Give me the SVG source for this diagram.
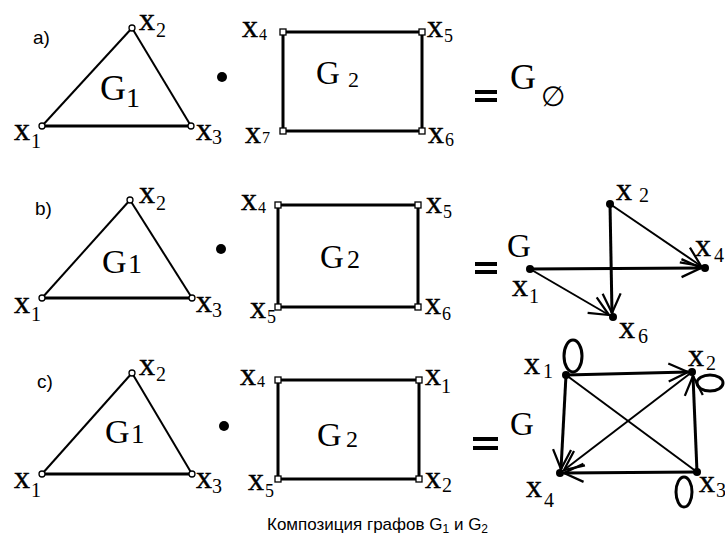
<svg xmlns="http://www.w3.org/2000/svg" width="725" height="550" viewBox="0 0 725 550">
<style>
.lbl{font-family:"Liberation Serif","Times New Roman",serif;font-size:32px;fill:#000;stroke:#000;stroke-width:0.4}
.sub{font-family:"Liberation Serif","Times New Roman",serif;fill:#000}
.big{font-family:"Liberation Serif","Times New Roman",serif;fill:#000}
.tag{font-family:"Liberation Sans",Arial,sans-serif;font-size:19px;fill:#000}
.ttl{font-family:"Liberation Sans",Arial,sans-serif;font-size:17px;fill:#000}
.e2{stroke:#000;stroke-width:2;fill:none}
.e3{stroke:#000;stroke-width:3;fill:none}
.on{fill:#fff;stroke:#000;stroke-width:1.3}
.fn{fill:#000}
</style>
<defs>
<marker id="arr" markerUnits="userSpaceOnUse" markerWidth="30" markerHeight="30" viewBox="-16 -10 20 20" refX="0" refY="0" orient="auto">
<path d="M-13,-6 L0,0 L-13,6" fill="none" stroke="#000" stroke-width="1.5"/>
</marker>
</defs>

<!-- Row a -->
<g id="row-a">
<text class="tag" x="33" y="44">a)</text>
<g id="a-G1-edges">
<line class="e2" x1="42" y1="126" x2="132" y2="28"/>
<line class="e2" x1="132" y1="28" x2="191" y2="126"/>
<line class="e3" x1="42" y1="126" x2="191" y2="126"/>
</g>
<g id="a-x1"><circle class="on" cx="42" cy="126" r="3"/><text class="lbl" x="14" y="140">x</text><text class="sub" x="31" y="148" font-size="20">1</text></g>
<g id="a-x2"><circle class="on" cx="132" cy="28" r="3"/><text class="lbl" x="139" y="30">x</text><text class="sub" x="156" y="37" font-size="20">2</text></g>
<g id="a-x3"><circle class="on" cx="191" cy="126" r="3"/><text class="lbl" x="196" y="140">x</text><text class="sub" x="212" y="144" font-size="20">3</text></g>
<g id="a-G1label"><text class="big" x="100" y="100" font-size="36">G</text><text class="sub" x="126" y="107" font-size="28">1</text></g>
<circle id="a-dot" class="fn" cx="222" cy="77" r="5"/>
<g id="a-G2-edges">
<rect class="e3" x="283" y="32" width="139" height="99"/>
</g>
<g id="a-x4"><rect class="on" x="280" y="29" width="6" height="6"/><text class="lbl" x="242" y="37">x</text><text class="sub" x="259" y="40" font-size="16">4</text></g>
<g id="a-x5"><rect class="on" x="419" y="29" width="6" height="6"/><text class="lbl" x="427" y="37">x</text><text class="sub" x="444" y="42" font-size="18">5</text></g>
<g id="a-x7"><rect class="on" x="280" y="128" width="6" height="6"/><text class="lbl" x="245" y="143">x</text><text class="sub" x="262" y="143" font-size="16">7</text></g>
<g id="a-x6"><rect class="on" x="419" y="128" width="6" height="6"/><text class="lbl" x="428" y="143">x</text><text class="sub" x="445" y="146" font-size="18">6</text></g>
<g id="a-G2label"><text class="big" x="316" y="84" font-size="33">G</text><text class="sub" x="348" y="87" font-size="22">2</text></g>
<rect x="475" y="90" width="22" height="4"/><rect x="475" y="98" width="22" height="4"/>
<g id="a-result"><text class="big" x="510" y="89" font-size="36">G</text><text class="sub" x="541" y="106" font-size="28">∅</text></g>
</g>

<!-- Row b -->
<g id="row-b">
<text class="tag" x="35" y="215">b)</text>
<g id="b-G1-edges">
<line class="e2" x1="42" y1="298" x2="130" y2="200"/>
<line class="e2" x1="130" y1="200" x2="192" y2="298"/>
<line class="e3" x1="42" y1="298" x2="192" y2="298"/>
</g>
<g id="b-x1"><circle class="on" cx="42" cy="298" r="3"/><text class="lbl" x="14" y="313">x</text><text class="sub" x="31" y="321" font-size="20">1</text></g>
<g id="b-x2"><circle class="on" cx="130" cy="200" r="3"/><text class="lbl" x="139" y="203">x</text><text class="sub" x="156" y="210" font-size="20">2</text></g>
<g id="b-x3"><circle class="on" cx="192" cy="298" r="3"/><text class="lbl" x="196" y="312">x</text><text class="sub" x="212" y="317" font-size="20">3</text></g>
<g id="b-G1label"><text class="big" x="102" y="273" font-size="34">G</text><text class="sub" x="128" y="273" font-size="28">1</text></g>
<circle id="b-dot" class="fn" cx="221" cy="249" r="5"/>
<g id="b-G2-edges">
<rect class="e3" x="278" y="205" width="140" height="102"/>
</g>
<g id="b-x4"><rect class="on" x="275" y="202" width="6" height="6"/><text class="lbl" x="241" y="210">x</text><text class="sub" x="258" y="213" font-size="16">4</text></g>
<g id="b-x5"><rect class="on" x="415" y="202" width="6" height="6"/><text class="lbl" x="426" y="213">x</text><text class="sub" x="443" y="218" font-size="18">5</text></g>
<g id="b-x5b"><rect class="on" x="275" y="304" width="6" height="6"/><text class="lbl" x="250" y="318">x</text><text class="sub" x="267" y="323" font-size="18">5</text></g>
<g id="b-x6"><rect class="on" x="415" y="304" width="6" height="6"/><text class="lbl" x="425" y="314">x</text><text class="sub" x="442" y="320" font-size="18">6</text></g>
<g id="b-G2label"><text class="big" x="320" y="268" font-size="33">G</text><text class="sub" x="347" y="268" font-size="26">2</text></g>
<rect x="475" y="262" width="22" height="4"/><rect x="475" y="270" width="22" height="4"/>
<text class="big" x="507" y="257" font-size="33">G</text>
<g id="b-result-edges">
<line class="e3" x1="530" y1="269" x2="701" y2="268" marker-end="url(#arr)"/>
<line class="e2" x1="610" y1="204" x2="701" y2="266" marker-end="url(#arr)"/>
<line class="e3" x1="610" y1="204" x2="612" y2="313" marker-end="url(#arr)"/>
<line class="e2" x1="530" y1="269" x2="609" y2="315" marker-end="url(#arr)"/>
</g>
<g id="b-r-x1"><circle class="fn" cx="530" cy="269" r="4"/><text class="lbl" x="512" y="296">x</text><text class="sub" x="529" y="303" font-size="20">1</text></g>
<g id="b-r-x2"><circle class="fn" cx="610" cy="204" r="4"/><text class="lbl" x="616" y="200">x</text><text class="sub" x="639" y="202" font-size="20">2</text></g>
<g id="b-r-x4"><circle class="fn" cx="705" cy="268" r="4"/><text class="lbl" x="695" y="256">x</text><text class="sub" x="714" y="262" font-size="20">4</text></g>
<g id="b-r-x6"><circle class="fn" cx="613" cy="317" r="4"/><text class="lbl" x="619" y="338">x</text><text class="sub" x="638" y="343" font-size="20">6</text></g>
</g>

<!-- Row c -->
<g id="row-c">
<text class="tag" x="37" y="388">c)</text>
<g id="c-G1-edges">
<line class="e2" x1="42" y1="474" x2="132" y2="373"/>
<line class="e2" x1="132" y1="373" x2="192" y2="474"/>
<line class="e3" x1="42" y1="474" x2="192" y2="474"/>
</g>
<g id="c-x1"><circle class="on" cx="42" cy="474" r="3"/><text class="lbl" x="14" y="488">x</text><text class="sub" x="31" y="497" font-size="20">1</text></g>
<g id="c-x2"><circle class="on" cx="132" cy="373" r="3"/><text class="lbl" x="139" y="375">x</text><text class="sub" x="156" y="381" font-size="20">2</text></g>
<g id="c-x3"><circle class="on" cx="192" cy="474" r="3"/><text class="lbl" x="196" y="488">x</text><text class="sub" x="212" y="493" font-size="20">3</text></g>
<g id="c-G1label"><text class="big" x="105" y="443" font-size="34">G</text><text class="sub" x="131" y="443" font-size="27">1</text></g>
<circle id="c-dot" class="fn" cx="224" cy="426" r="5"/>
<g id="c-G2-edges">
<rect class="e3" x="278" y="380" width="141" height="99"/>
</g>
<g id="c-x4"><rect class="on" x="275" y="377" width="6" height="6"/><text class="lbl" x="240" y="385">x</text><text class="sub" x="257" y="387" font-size="16">4</text></g>
<g id="c-x1r"><rect class="on" x="416" y="377" width="6" height="6"/><text class="lbl" x="425" y="385">x</text><text class="sub" x="441" y="393" font-size="20">1</text></g>
<g id="c-x5"><rect class="on" x="275" y="476" width="6" height="6"/><text class="lbl" x="248" y="490">x</text><text class="sub" x="265" y="497" font-size="18">5</text></g>
<g id="c-x2r"><rect class="on" x="416" y="476" width="6" height="6"/><text class="lbl" x="425" y="488">x</text><text class="sub" x="442" y="492" font-size="20">2</text></g>
<g id="c-G2label"><text class="big" x="317" y="446" font-size="34">G</text><text class="sub" x="346" y="447" font-size="24">2</text></g>
<rect x="473" y="437" width="25" height="4"/><rect x="473" y="446" width="25" height="4"/>
<text class="big" x="510" y="435" font-size="33">G</text>
<g id="c-result-edges">
<line class="e3" x1="566" y1="375" x2="688" y2="372" marker-end="url(#arr)"/>
<line class="e3" x1="566" y1="375" x2="561" y2="469" marker-end="url(#arr)"/>
<line class="e2" x1="566" y1="375" x2="697" y2="472"/>
<line class="e2" x1="692" y1="372" x2="564" y2="470" marker-end="url(#arr)"/>
<line class="e3" x1="697" y1="472" x2="693" y2="376" marker-end="url(#arr)"/>
<line class="e3" x1="697" y1="472" x2="564" y2="473" marker-end="url(#arr)"/>
<ellipse class="e3" cx="573" cy="356" rx="9" ry="16"/>
<ellipse class="e3" cx="710" cy="383" rx="13" ry="8"/>
<ellipse class="e3" cx="684" cy="492" rx="8" ry="15"/>
</g>
<g id="c-r-x1"><circle class="fn" cx="566" cy="375" r="4"/><text class="lbl" x="524" y="374">x</text><text class="sub" x="543" y="378" font-size="20">1</text></g>
<g id="c-r-x2"><circle class="fn" cx="692" cy="372" r="4"/><text class="lbl" x="688" y="366">x</text><text class="sub" x="706" y="370" font-size="20">2</text></g>
<g id="c-r-x3"><circle class="fn" cx="697" cy="472" r="4"/><text class="lbl" x="699" y="492">x</text><text class="sub" x="716" y="497" font-size="20">3</text></g>
<g id="c-r-x4"><circle class="fn" cx="560" cy="473" r="4"/><text class="lbl" x="526" y="497">x</text><text class="sub" x="544" y="507" font-size="20">4</text></g>
</g>

<text class="ttl" x="267" y="530">Композиция графов G<tspan font-size="12" dy="3">1</tspan><tspan dy="-3"> и G</tspan><tspan font-size="12" dy="3">2</tspan></text>
</svg>
